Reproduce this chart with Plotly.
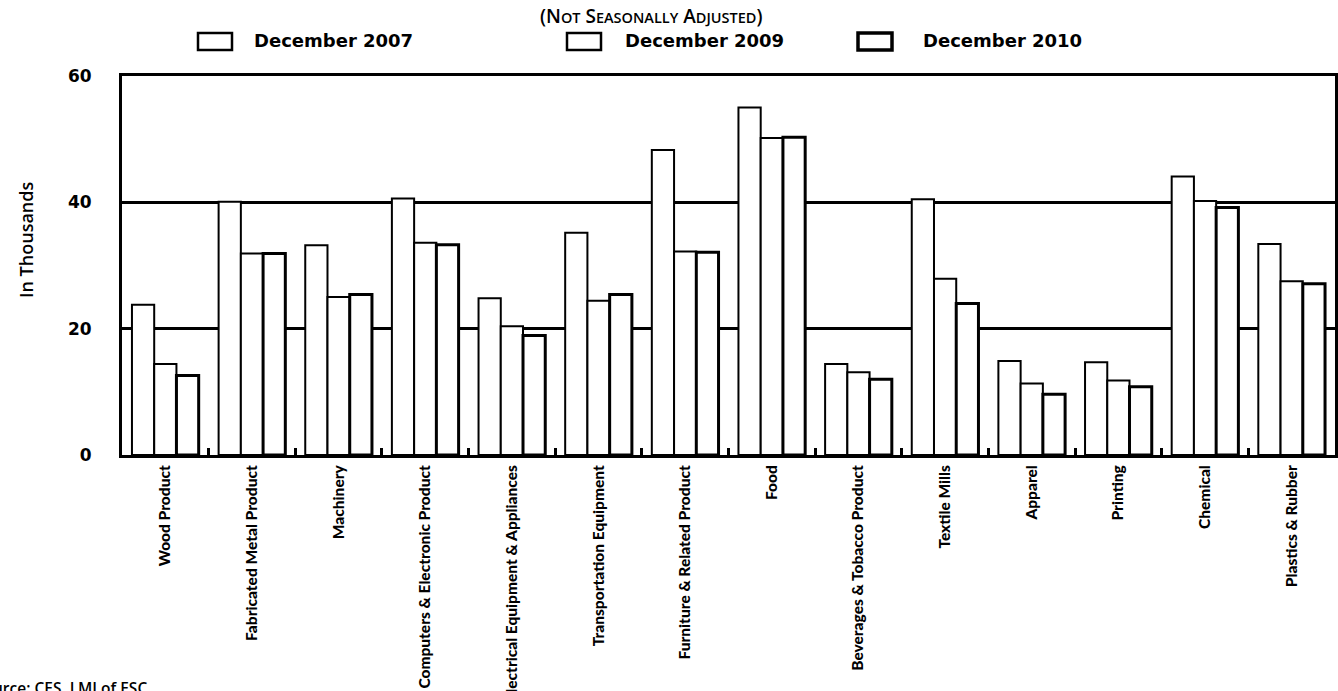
import plotly.graph_objects as go

# Manufacturing employment by industry, in thousands (not seasonally adjusted)
categories = [
    "Wood Product", "Fabricated Metal Product", "Machinery",
    "Computers & Electronic Product", "Electrical Equipment & Appliances",
    "Transportation Equipment", "Furniture & Related Product", "Food",
    "Beverages & Tobacco Product", "Textile Mills", "Apparel", "Printing",
    "Chemical", "Plastics & Rubber",
]
series_names = ["December 2007", "December 2009", "December 2010"]
dec2007 = [23.8, 40.1, 33.2, 40.6, 24.8, 35.2, 48.3, 55.0, 14.4, 40.5, 14.9, 14.7, 44.1, 33.4]
dec2009 = [14.4, 31.9, 25.0, 33.6, 20.4, 24.4, 32.2, 50.2, 13.1, 27.9, 11.3, 11.8, 40.2, 27.5]
dec2010 = [12.6, 31.9, 25.4, 33.3, 18.9, 25.4, 32.1, 50.3, 12.0, 24.0, 9.6, 10.8, 39.2, 27.1]
y_ticks = [0, 20, 40, 60]
y_tick_labels = ["0", "20", "40", "60"]

W, H = 1338, 691
ML, MR, MT, MB = 122, 3, 76, 236
PW, PH = W - ML - MR, H - MT - MB


def px_x(x):
    return (x - ML) / PW


def px_y(y):
    return (H - MB - y) / PH


fig = go.Figure()
outline_widths = [2, 2, 3]
for name, vals, lw in zip(series_names, [dec2007, dec2009, dec2010], outline_widths):
    fig.add_trace(go.Bar(
        x=categories, y=vals, name=name,
        marker=dict(color="white", line=dict(color="black", width=lw)),
        showlegend=False,
    ))

# key across the top: outlined boxes with the series names
box_x = [198, 567, 858]
text_x = [252, 623, 921]
shapes = []
annotations = []
for i, name in enumerate(series_names):
    shapes.append(dict(
        type="rect", xref="paper", yref="paper",
        x0=px_x(box_x[i]), x1=px_x(box_x[i] + 34),
        y0=px_y(50), y1=px_y(33),
        line=dict(color="black", width=outline_widths[i] + 0.5),
        fillcolor="white",
    ))
    annotations.append(dict(
        text=name, xref="paper", yref="paper",
        x=px_x(text_x[i]), y=px_y(41), xanchor="left", yanchor="middle",
        showarrow=False,
        font=dict(family="DejaVu Sans", size=18, color="black", weight="bold"),
    ))

sc = "<span style='font-size:14.5px'>{}</span>"
subtitle = ("(N" + sc.format("OT") + " S" + sc.format("EASONALLY") + " A"
            + sc.format("DJUSTED") + ")")
annotations.append(dict(
    text=subtitle, xref="paper", yref="paper",
    x=px_x(651), y=px_y(16), xanchor="center", yanchor="middle",
    showarrow=False,
    font=dict(family="Open Sans", size=19, color="black", weight=600),
))
annotations.append(dict(
    text="In Thousands", xref="paper", yref="paper",
    x=px_x(26), y=px_y(240), xanchor="center", yanchor="middle",
    textangle=-90, showarrow=False,
    font=dict(family="Open Sans", size=18, color="black", weight=600),
))
annotations.append(dict(
    text="Source: CES, LMI of ESC", xref="paper", yref="paper",
    x=px_x(-27), y=px_y(675), xanchor="left", yanchor="top",
    showarrow=False,
    font=dict(family="Open Sans", size=15.5, color="black", weight=600),
))

fig.update_layout(
    width=W, height=H,
    margin=dict(l=ML, r=MR, t=MT, b=MB),
    paper_bgcolor="white", plot_bgcolor="white",
    barmode="group", bargap=0.23, bargroupgap=0,
    shapes=shapes, annotations=annotations,
    showlegend=False,
)
fig.update_xaxes(
    type="category", showgrid=False, automargin=False,
    showline=True, linecolor="black", linewidth=3, mirror=True,
    ticks="inside", tickson="boundaries", ticklen=7, tickwidth=3, tickcolor="black",
    tickangle=-90, ticklabelstandoff=1,
    tickfont=dict(family="Lato", size=15.5, color="black", weight=900),
)
fig.update_yaxes(
    range=[0, 60], tickvals=y_ticks, ticktext=y_tick_labels,
    showgrid=True, gridcolor="black", gridwidth=2.5,
    zeroline=False, automargin=False,
    showline=True, linecolor="black", linewidth=3, mirror=True,
    ticks="", ticklabelstandoff=24,
    tickfont=dict(family="DejaVu Sans", size=17, color="black", weight="bold"),
)

fig.write_html("out.html")
